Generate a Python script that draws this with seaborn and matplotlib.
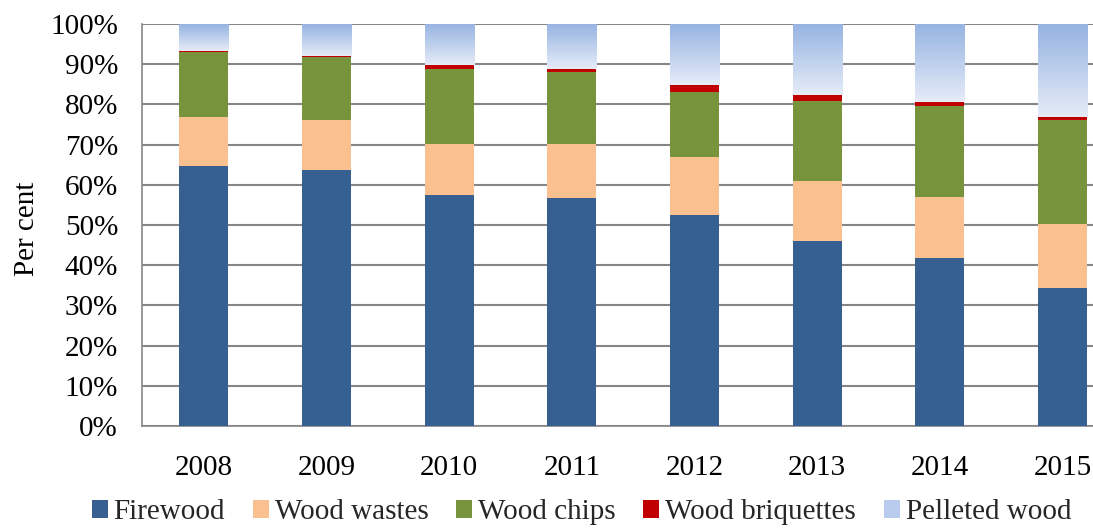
import numpy as np
import pandas as pd
import matplotlib
matplotlib.use("Agg")
import matplotlib.pyplot as plt
from matplotlib.colors import LinearSegmentedColormap
from matplotlib.patches import Patch
from matplotlib.ticker import FixedLocator, PercentFormatter
import seaborn as sns

# Shares of wood fuel types, per cent of total
years = ["2008", "2009", "2010", "2011", "2012", "2013", "2014", "2015"]
firewood = [64.7, 63.7, 57.5, 56.7, 52.5, 46.0, 41.8, 34.3]
wood_wastes = [12.2, 12.4, 12.6, 13.4, 14.4, 14.9, 15.2, 15.9]
wood_chips = [16.1, 15.7, 18.7, 18.0, 16.2, 19.9, 22.6, 25.9]
wood_briquettes = [0.3, 0.3, 1.0, 0.7, 1.7, 1.5, 1.0, 0.8]
pelleted_wood = [6.7, 7.9, 10.2, 11.2, 15.2, 17.7, 19.4, 23.1]

series = ["Firewood", "Wood wastes", "Wood chips", "Wood briquettes", "Pelleted wood"]
colors = ["#366092", "#FAC090", "#77933C", "#C00000", "#B9CBEC"]
grad_top, grad_bottom = "#95B3E1", "#E6ECF8"

df = pd.DataFrame({
    "year": years,
    "Firewood": firewood,
    "Wood wastes": wood_wastes,
    "Wood chips": wood_chips,
    "Wood briquettes": wood_briquettes,
    "Pelleted wood": pelleted_wood,
})
cum = df[series].cumsum(axis=1)

sns.set_theme(style="white")
plt.rcParams["font.family"] = ["Liberation Serif", "DejaVu Serif"]

fig = plt.figure(figsize=(10.93, 5.28), dpi=100)
ax = fig.add_axes([0.1303, 0.193, 0.898, 0.7615])

# Stack by overlaying cumulative totals, tallest first
containers = {}
zorders = {}
for i, name in reversed(list(enumerate(series))):
    before = len(ax.containers)
    z = 2 + (len(series) - i)
    sns.barplot(x=df["year"], y=cum[name], color=colors[i], width=0.4,
                saturation=1, linewidth=0, edgecolor="none", ax=ax, zorder=z)
    containers[name] = ax.containers[before]
    zorders[name] = z

# Gradient fill for the pelleted wood segment
cmap = LinearSegmentedColormap.from_list("pellet", [grad_bottom, grad_top])
grad = np.linspace(0, 1, 256).reshape(-1, 1)
for k, patch in enumerate(containers["Pelleted wood"]):
    x0 = patch.get_x()
    w = patch.get_width()
    lo = cum["Wood briquettes"].iloc[k]
    hi = cum["Pelleted wood"].iloc[k]
    ax.imshow(grad, cmap=cmap, aspect="auto", origin="lower",
              extent=[x0, x0 + w, lo, hi], zorder=zorders["Pelleted wood"] + 0.5,
              interpolation="bilinear")

ax.set_xlim(-0.5, len(years) - 0.5)
ax.set_ylim(0, 100)
ax.yaxis.set_major_locator(FixedLocator(np.arange(0, 101, 10)))
ax.yaxis.set_major_formatter(PercentFormatter(decimals=0))

ax.grid(axis="y", color="#868686", linewidth=1.5)
ax.grid(axis="x", visible=False)
ax.set_axisbelow(True)

for s in ["top", "right"]:
    ax.spines[s].set_visible(False)
for s in ["left", "bottom"]:
    ax.spines[s].set_color("#868686")
    ax.spines[s].set_linewidth(1.2)

ax.xaxis.set_minor_locator(FixedLocator(np.arange(-0.5, len(years), 1.0)))
ax.tick_params(axis="x", which="major", length=0, pad=21, labelsize=21, colors="black")
ax.tick_params(axis="x", which="minor", length=6, width=1.2, color="#868686", direction="out")
ax.tick_params(axis="y", which="major", length=6, width=1.2, color="#868686",
               direction="out", pad=11.5, labelsize=21, labelcolor="black")

ax.set_xlabel("")
ax.set_ylabel("Per cent", fontsize=21, color="black")
ax.yaxis.set_label_coords(-0.104, 0.49)

handles = [Patch(facecolor=c, edgecolor="none") for c in colors]
fig.legend(handles, series, loc="center", bbox_to_anchor=(0.532, 0.03), ncol=5,
           frameon=False, fontsize=21, handlelength=0.55, handleheight=0.55,
           handletextpad=0.2, columnspacing=0.95, borderaxespad=0)

fig.savefig("out.png", dpi=100)
